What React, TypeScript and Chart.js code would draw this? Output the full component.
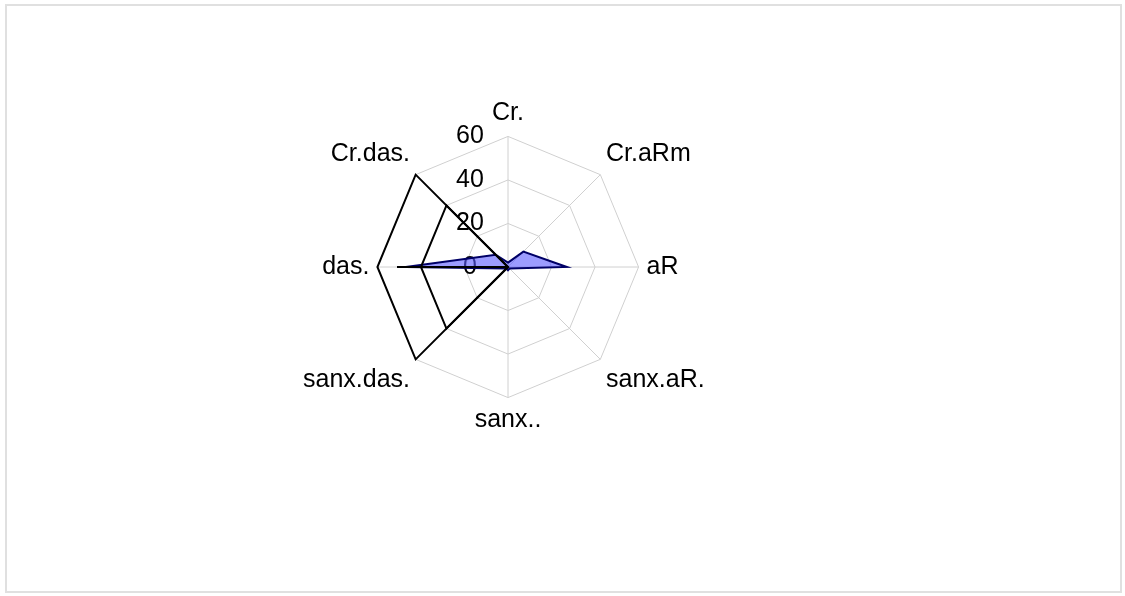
import React, { useEffect, useRef } from "react";
import { Chart, registerables } from "chart.js";

Chart.register(...registerables);

const categories = ["Cr.", "Cr.aRm", "aR", "sanx.aR.", "sanx..", "sanx.das.", "das.", "Cr.das."];
const seriesFilled = [2, 10, 27, 1, 1.5, 1, 47, 8];
const seriesOuter = [0, 0, 0, 0, 0, 60, 60, 60];
const seriesInner = [0, 0, 0, 0, 0, 40, 40, 40];
const seriesSpike = [0, 0, 0, 0, 0, 0, 51, 0];
const tickValues = [0, 20, 40, 60];

const FONT = "'Liberation Sans', Arial, sans-serif";

const tickPlugin = {
  id: "sideTicks",
  beforeDatasetsDraw(chart: any) {
    const scale = chart.scales.r;
    const ctx = chart.ctx;
    ctx.save();
    ctx.font = `25px ${FONT}`;
    ctx.fillStyle = "#000";
    ctx.textAlign = "center";
    ctx.textBaseline = "middle";
    tickValues.forEach((v) => {
      const d = scale.getDistanceFromCenterForValue(v);
      ctx.fillText(String(v), scale.xCenter - 38, scale.yCenter - d);
    });
    ctx.restore();
  },
};

export default function App() {
  const ref = useRef<HTMLCanvasElement>(null);
  useEffect(() => {
    if (!ref.current) return;
    const chart = new Chart(ref.current, {
      type: "radar",
      data: {
        labels: categories,
        datasets: [
          {
            data: seriesSpike,
            borderColor: "#000",
            borderWidth: 2,
            fill: false,
            pointRadius: 0,
          },
          {
            data: seriesOuter,
            borderColor: "#000",
            borderWidth: 2,
            fill: false,
            pointRadius: 0,
          },
          {
            data: seriesInner,
            borderColor: "#000",
            borderWidth: 2,
            fill: false,
            pointRadius: 0,
          },
          {
            data: seriesFilled,
            borderColor: "#000066",
            backgroundColor: "rgba(90,90,255,0.6)",
            borderWidth: 2,
            fill: true,
            pointRadius: 0,
          },
        ],
      },
      options: {
        animation: false,
        responsive: false,
        plugins: { legend: { display: false }, tooltip: { enabled: false } },
        scales: {
          r: {
            min: 0,
            max: 60,
            ticks: { display: false, stepSize: 20 },
            grid: { color: "#d0d0d0", lineWidth: 1 },
            angleLines: { color: "#d0d0d0", lineWidth: 1 },
            pointLabels: {
              color: "#000",
              padding: 8,
              font: { size: 25, family: FONT },
            },
          },
        },
      },
      plugins: [tickPlugin],
    });
    return () => chart.destroy();
  }, []);
  return (
    <div>
      <div
        style={{
          position: "absolute",
          left: 5,
          top: 4,
          width: 1117,
          height: 589,
          border: "2px solid #e0e0e0",
          boxSizing: "border-box",
        }}
      />
      <canvas
        ref={ref}
        width={410}
        height={410}
        style={{ position: "absolute", left: 298, top: 62, width: 410, height: 410 }}
      />
    </div>
  );
}
